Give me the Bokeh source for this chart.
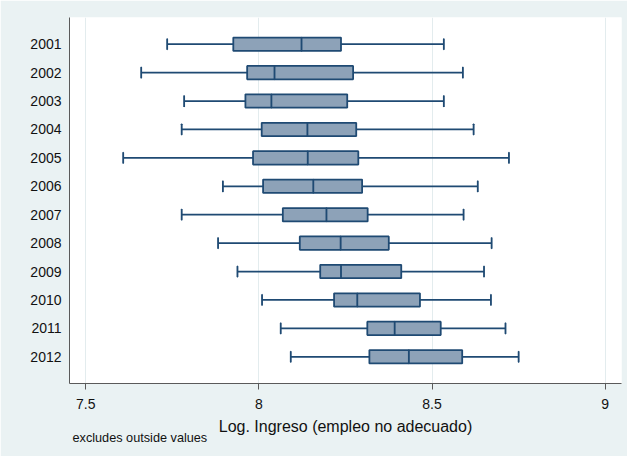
from bokeh.plotting import figure
from bokeh.models import Range1d, FixedTicker, LinearAxis, ColumnDataSource, Title
from bokeh.embed import file_html
from bokeh.resources import INLINE

years = ["2001", "2002", "2003", "2004", "2005", "2006",
         "2007", "2008", "2009", "2010", "2011", "2012"]
lower = [7.735, 7.660, 7.784, 7.777, 7.608, 7.896, 7.777, 7.882, 7.938, 8.009, 8.063, 8.092]
q1 = [7.926, 7.966, 7.961, 8.008, 7.983, 8.012, 8.069, 8.118, 8.177, 8.217, 8.313, 8.319]
median = [8.123, 8.045, 8.036, 8.140, 8.141, 8.157, 8.195, 8.236, 8.237, 8.284, 8.392, 8.433]
q3 = [8.237, 8.272, 8.255, 8.281, 8.287, 8.298, 8.314, 8.375, 8.411, 8.465, 8.525, 8.587]
upper = [8.534, 8.589, 8.534, 8.620, 8.722, 8.632, 8.591, 8.672, 8.650, 8.670, 8.712, 8.750]
x_ticks = [7.5, 8, 8.5, 9]
x_title = "Log. Ingreso (empleo no adecuado)"
note_text = "excludes outside values"

BG = "#EAF2F3"
NAVY = "#1F4A73"
FILL = "#8DA2B8"
FONT = "Liberation Sans"

src = ColumnDataSource(dict(year=years, lower=lower, q1=q1, median=median, q3=q3, upper=upper))

xr = Range1d(7.453, 9.047)
p = figure(width=627, height=456, output_backend="svg", toolbar_location=None,
           y_range=years[::-1], x_range=xr,
           min_border_left=69, min_border_right=6, min_border_top=17, min_border_bottom=73)
p.y_range.range_padding = 0.0733
p.background_fill_color = "white"
p.border_fill_color = BG
p.outline_line_color = None

# whiskers
p.segment(x0="lower", y0="year", x1="q1", y1="year", source=src, line_color=NAVY, line_width=1.8)
p.segment(x0="q3", y0="year", x1="upper", y1="year", source=src, line_color=NAVY, line_width=1.8)
# caps
p.rect(x="lower", y="year", width=0.0001, height=0.37, source=src, line_color=NAVY, line_width=1.8, fill_color=None)
p.rect(x="upper", y="year", width=0.0001, height=0.37, source=src, line_color=NAVY, line_width=1.8, fill_color=None)
# boxes
p.hbar(y="year", left="q1", right="q3", height=0.47, source=src,
       fill_color=FILL, line_color=NAVY, line_width=1.8)
# medians
p.rect(x="median", y="year", width=0.0001, height=0.47, source=src, line_color=NAVY, line_width=1.8, fill_color=None)

p.xgrid.ticker = FixedTicker(ticks=x_ticks)
p.xgrid.grid_line_color = "#E3ECEE"
p.xgrid.grid_line_width = 1
p.ygrid.grid_line_color = None

p.xaxis.ticker = FixedTicker(ticks=x_ticks)
p.xaxis.major_tick_out = 6
p.xaxis.major_tick_in = 0
p.xaxis.minor_tick_out = 0
p.xaxis.minor_tick_in = 0
p.xaxis.axis_line_color = "#5a5a5a"
p.xaxis.major_tick_line_color = "#5a5a5a"
p.xaxis.major_label_text_font = FONT
p.xaxis.major_label_text_font_size = "14px"
p.xaxis.major_label_text_color = "#111111"
p.xaxis.major_label_standoff = 9

# second bottom axis: carries the axis title as its only tick label
mid = (xr.start + xr.end) / 2
ax2 = LinearAxis(ticker=FixedTicker(ticks=[mid]), major_label_overrides={mid: x_title})
ax2.axis_line_color = None
ax2.major_tick_line_color = None
ax2.minor_tick_line_color = None
ax2.major_tick_out = 0
ax2.major_tick_in = 0
ax2.minor_tick_out = 0
ax2.minor_tick_in = 0
ax2.major_label_standoff = 6
ax2.major_label_text_font = FONT
ax2.major_label_text_font_size = "16px"
ax2.major_label_text_color = "#111111"
p.add_layout(ax2, "below")

note = Title(text=note_text, align="left", vertical_align="top", offset=3,
             text_font=FONT, text_font_size="12.7px", text_font_style="normal",
             text_color="#111111")
try:
    note.standoff = -14
except ValueError:
    note.standoff = 0
p.add_layout(note, "below")

p.yaxis.major_tick_out = 0
p.yaxis.major_tick_in = 0
p.yaxis.axis_line_color = "#5a5a5a"
p.yaxis.major_label_text_font = FONT
p.yaxis.major_label_text_font_size = "14px"
p.yaxis.major_label_text_color = "#111111"
p.yaxis.major_label_standoff = 8

open("out.html", "w").write(file_html(p, INLINE))
